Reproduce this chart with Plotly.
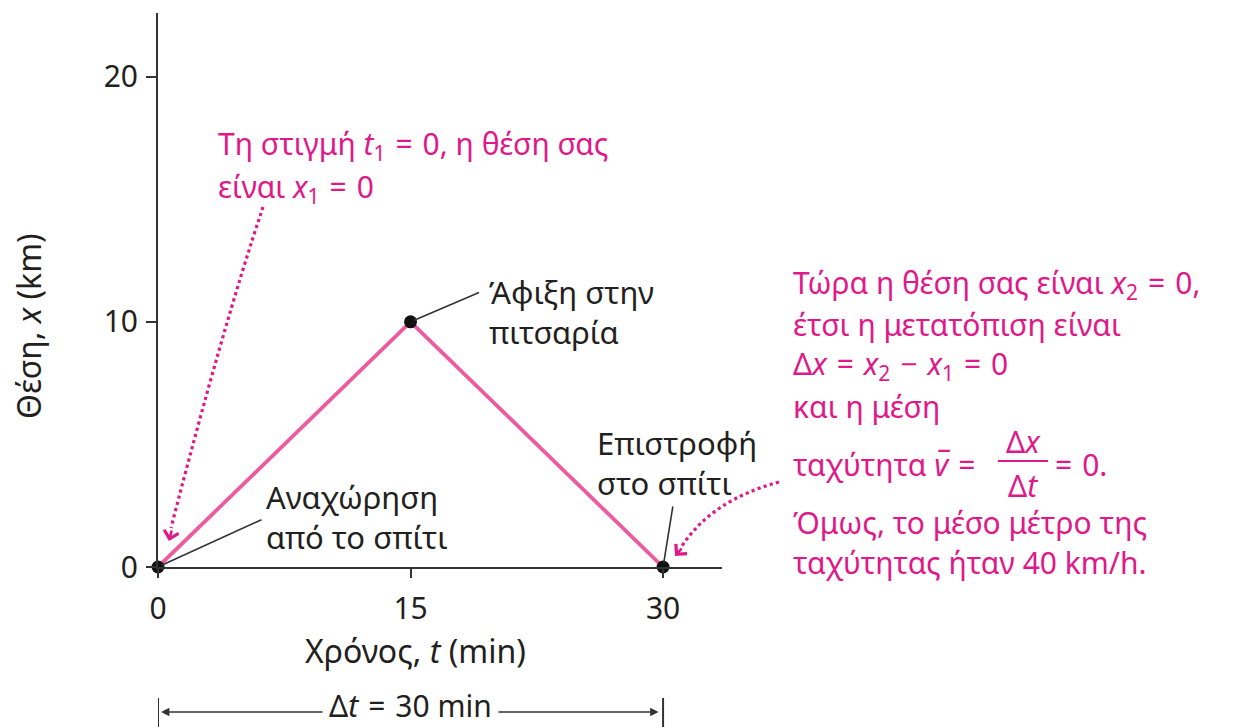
import plotly.graph_objects as go

# Trip to the pizzeria and back: position vs time
time_min = [0, 15, 30]
position_km = [0, 10, 0]
x_tick_vals = [0, 15, 30]
y_tick_vals = [0, 10, 20]
point_labels = ["Αναχώρηση<br>από το σπίτι", "Άφιξη στην<br>πιτσαρία", "Επιστροφή<br>στο σπίτι"]

delta_t = time_min[-1] - time_min[0]
displacement = position_km[-1] - position_km[0]
distance_km = sum(abs(b - a) for a, b in zip(position_km[:-1], position_km[1:]))
avg_speed = distance_km / (delta_t / 60)

W, H = 1237, 727
ML, MR, MT, MB = 158, 515, 13, 160
PW, PH = W - ML - MR, H - MT - MB

FONT = "Noto Sans"
DARK = "#231F20"
MAGENTA = "#E0198A"
LINE_PINK = "#EE5A9E"
AXIS = "#333333"
SP = "\u2004"  # slightly wider space around math operators


def px(xp):
    return (xp - ML) / PW


def py(yp):
    return (H - MB - yp) / PH


def text_at(xp, yp, text, size, color, xanchor="left", **kw):
    return dict(x=px(xp), y=py(yp), xref="paper", yref="paper", xanchor=xanchor, yanchor="middle",
                align="left", showarrow=False, text=text,
                font=dict(family=FONT, size=size, color=color), **kw)


def eq(*parts):
    return f"{SP}={SP}".join(parts)


fig = go.Figure()
fig.add_trace(go.Scatter(
    x=time_min, y=position_km, mode="lines", cliponaxis=False,
    line=dict(color=LINE_PINK, width=3.8), hoverinfo="skip", showlegend=False,
))
fig.add_trace(go.Scatter(
    x=time_min, y=position_km, mode="markers", cliponaxis=False,
    marker=dict(color="#111111", size=13), hoverinfo="skip", showlegend=False,
))

shapes = []
ann = []

# leader lines from points to their labels, and the labels
leader_offsets = [(105, -48), (70, -30), (10, -62)]
label_shifts = [(106, 50), (76, 10), (-68, 104)]
for t, x, lab, (ax, ay), (xs, ys) in zip(time_min, position_km, point_labels, leader_offsets, label_shifts):
    ann.append(dict(x=t, y=x, xref="x", yref="y", text="", showarrow=True,
                    ax=ax, ay=ay, arrowhead=0, arrowwidth=1.6, arrowcolor=AXIS, standoff=4))
    ann.append(dict(x=t, y=x, xref="x", yref="y", text=lab, showarrow=False,
                    xanchor="left", yanchor="middle", align="left", xshift=xs, yshift=ys,
                    font=dict(family=FONT, size=31, color=DARK)))

# magenta note about the start
NOTE = 30
ann.append(text_at(216, 145, f"Τη στιγμή {eq('<i>t</i><sub>1</sub>', str(time_min[0]))}, η θέση σας",
                   NOTE, MAGENTA))
ann.append(text_at(216, 188, f"είναι {eq('<i>x</i><sub>1</sub>', str(position_km[0]))}", NOTE, MAGENTA))

# dotted curved pointers
shapes.append(dict(type="path", xref="paper", yref="paper",
                   path=f"M {px(263)},{py(207)} Q {px(222)},{py(330)} {px(171)},{py(528)}",
                   line=dict(color=MAGENTA, width=3.2, dash="dot")))
ann.append(dict(x=px(169), y=py(541), xref="paper", yref="paper", text="", showarrow=True,
                ax=3, ay=-12, arrowhead=4, arrowsize=1.1, arrowwidth=2.6, arrowcolor=MAGENTA))
shapes.append(dict(type="path", xref="paper", yref="paper",
                   path=f"M {px(779)},{py(482)} Q {px(712)},{py(500)} {px(682)},{py(546)}",
                   line=dict(color=MAGENTA, width=3.2, dash="dot")))
ann.append(dict(x=px(675), y=py(556), xref="paper", yref="paper", text="", showarrow=True,
                ax=8, ay=-9, arrowhead=4, arrowsize=1.1, arrowwidth=2.6, arrowcolor=MAGENTA))

# magenta note about the return
ann.append(text_at(791, 284, f"Τώρα η θέση σας είναι {eq('<i>x</i><sub>2</sub>', str(position_km[-1]))},",
                   NOTE, MAGENTA))
ann.append(text_at(791, 324, "έτσι η μετατόπιση είναι", NOTE, MAGENTA))
ann.append(text_at(791, 365,
                   eq("Δ<i>x</i>", f"<i>x</i><sub>2</sub>{SP}−{SP}<i>x</i><sub>1</sub>", str(displacement)),
                   NOTE, MAGENTA))
ann.append(text_at(791, 406, "και η μέση", NOTE, MAGENTA))
ann.append(text_at(791, 464, f"ταχύτητα <i>v\u0305</i>{SP}=", NOTE, MAGENTA))
ann.append(text_at(1023, 441, "Δ<i>x</i>", NOTE, MAGENTA, xanchor="center"))
ann.append(text_at(1023, 485, "Δ<i>t</i>", NOTE, MAGENTA, xanchor="center"))
shapes.append(dict(type="line", xref="paper", yref="paper", x0=px(998), x1=px(1048),
                   y0=py(461), y1=py(461), line=dict(color=MAGENTA, width=2)))
ann.append(text_at(1053, 464, f"={SP}{displacement}.", NOTE, MAGENTA))
ann.append(text_at(791, 522, "Όμως, το μέσο μέτρο της", NOTE, MAGENTA))
ann.append(text_at(791, 562, f"ταχύτητας ήταν {avg_speed:g} km/h.", NOTE, MAGENTA))

# Δt bracket under the time axis
for t in (time_min[0], time_min[-1]):
    shapes.append(dict(type="line", xref="x", yref="paper", x0=t, x1=t,
                       y0=py(698), y1=py(735), line=dict(color=AXIS, width=2)))
ann.append(dict(x=time_min[0], y=py(712), xref="x", yref="paper", axref="x", ayref="pixel",
                ax=time_min[-1], ay=0, text="", showarrow=True, arrowside="end+start",
                arrowhead=2, startarrowhead=2, arrowsize=1.2, startarrowsize=1.2, arrowwidth=1.4,
                arrowcolor=AXIS, standoff=3, startstandoff=3))
ann.append(dict(x=(time_min[0] + time_min[-1]) / 2, y=py(705), xref="x", yref="paper",
                xanchor="center", yanchor="middle", showarrow=False, bgcolor="white", borderpad=6,
                text=f"Δ<i>t</i>{SP}={SP}{delta_t} min",
                font=dict(family=FONT, size=30, color=DARK)))

# axis titles
ann.append(text_at(415, 650, "Χρόνος, <i>t</i> (min)", 32, DARK, xanchor="center"))
ann.append(text_at(28, 326, "Θέση, <i>x</i> (km)", 32, DARK, xanchor="center", textangle=-90))

fig.update_layout(
    width=W, height=H, margin=dict(l=ML, r=MR, t=MT, b=MB),
    paper_bgcolor="white", plot_bgcolor="white",
    shapes=shapes, annotations=ann, showlegend=False,
    xaxis=dict(range=[0, 33.5], tickvals=x_tick_vals, showgrid=False, zeroline=False,
               showline=True, linecolor=AXIS, linewidth=2, ticks="outside",
               ticklen=9, tickwidth=2, tickcolor=AXIS, ticklabelstandoff=5,
               tickfont=dict(family=FONT, size=30, color=DARK)),
    yaxis=dict(range=[0, 22.6], tickvals=y_tick_vals, showgrid=False, zeroline=False,
               showline=True, linecolor=AXIS, linewidth=2, ticks="outside",
               ticklen=10, tickwidth=2, tickcolor=AXIS, ticklabelstandoff=2,
               tickfont=dict(family=FONT, size=30, color=DARK)),
)

fig.write_html("out.html")
